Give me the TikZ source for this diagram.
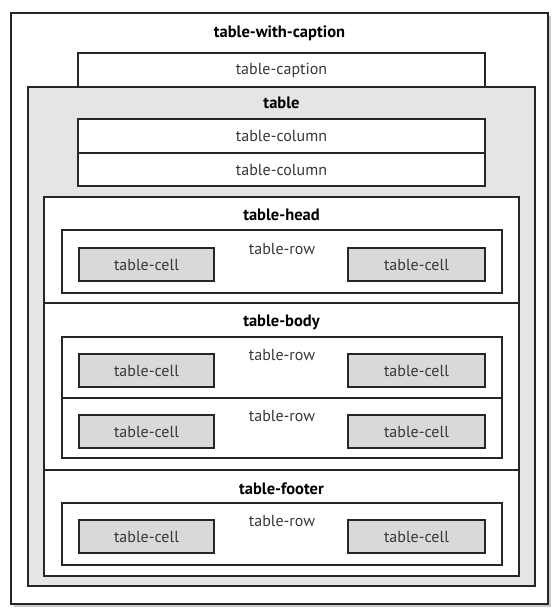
\documentclass[tikz,border=0pt]{standalone}
\usepackage{fontspec}
\setmainfont{PT Sans}
\usetikzlibrary{calc}
\begin{document}
\begin{tikzpicture}[x=1pt,y=-1pt,
  frame/.style={draw=black!85, line width=1.8pt, fill=white, inner sep=0pt, outer sep=0pt, anchor=north west},
  tablebox/.style={frame, fill=black!10},
  cellbox/.style={frame, fill=black!15},
  lbl/.style={font=\fontsize{16}{18}\selectfont, text=black!78, inner sep=0pt},
  hdr/.style={font=\fontsize{16.5}{18}\selectfont\bfseries, text=black, inner sep=0pt}]
\newcommand\boxat[6]{\node[#1, minimum width=#4pt, minimum height=#5pt] (#6) at (#2,#3) {};}
\useasboundingbox (0,0) rectangle (554,612);

% outer container with its drop shadow
\fill[black!22] (14,16) rectangle (551,607);
\boxat{frame}{11}{13}{537}{591}{outer}
\node[hdr] (outerlbl) at ($(outer.north)+(0,20)$) {table-with-caption};

% caption, then the table drawn over its lower edge
\boxat{frame}{78}{53}{407}{34}{caption}
\node[lbl] (captionlbl) at (caption.center) {table-caption};
\boxat{tablebox}{28}{87}{507}{499}{table}
\node[hdr] (tablelbl) at ($(table.north)+(0,16)$) {table};

% column groups
\boxat{frame}{78}{119}{407}{34}{colA}
\node[lbl] (colAlbl) at (colA.center) {table-column};
\boxat{frame}{78}{153}{407}{33}{colB}
\node[lbl] (colBlbl) at (colB.center) {table-column};

% head
\boxat{frame}{44}{197}{475}{106}{head}
\node[hdr] (headlbl) at ($(head.north)+(0,18)$) {table-head};
\boxat{frame}{62}{230}{440}{63}{headrow}
\node[lbl] (headrowlbl) at ($(headrow.north)+(0,19)$) {table-row};
\boxat{cellbox}{79}{248}{135}{33}{hcA}
\node[lbl] (hcAlbl) at (hcA.center) {table-cell};
\boxat{cellbox}{348}{248}{137}{33}{hcB}
\node[lbl] (hcBlbl) at (hcB.center) {table-cell};

% body
\boxat{frame}{44}{303}{475}{167}{body}
\node[hdr] (bodylbl) at ($(body.north)+(0,19)$) {table-body};
\boxat{frame}{62}{337}{440}{61}{rowA}
\node[lbl] (rowAlbl) at ($(rowA.north)+(0,18)$) {table-row};
\boxat{cellbox}{79}{354}{135}{33}{acA}
\node[lbl] (acAlbl) at (acA.center) {table-cell};
\boxat{cellbox}{348}{354}{137}{33}{acB}
\node[lbl] (acBlbl) at (acB.center) {table-cell};
\boxat{frame}{62}{398}{440}{60}{rowB}
\node[lbl] (rowBlbl) at ($(rowB.north)+(0,18)$) {table-row};
\boxat{cellbox}{79}{415}{135}{33}{bcA}
\node[lbl] (bcAlbl) at (bcA.center) {table-cell};
\boxat{cellbox}{348}{415}{137}{33}{bcB}
\node[lbl] (bcBlbl) at (bcB.center) {table-cell};

% footer
\boxat{frame}{44}{470}{475}{106}{foot}
\node[hdr] (footlbl) at ($(foot.north)+(0,19)$) {table-footer};
\boxat{frame}{62}{503}{440}{62}{footrow}
\node[lbl] (footrowlbl) at ($(footrow.north)+(0,18)$) {table-row};
\boxat{cellbox}{79}{520}{135}{33}{fcA}
\node[lbl] (fcAlbl) at (fcA.center) {table-cell};
\boxat{cellbox}{348}{520}{137}{33}{fcB}
\node[lbl] (fcBlbl) at (fcB.center) {table-cell};
\end{tikzpicture}
\end{document}
